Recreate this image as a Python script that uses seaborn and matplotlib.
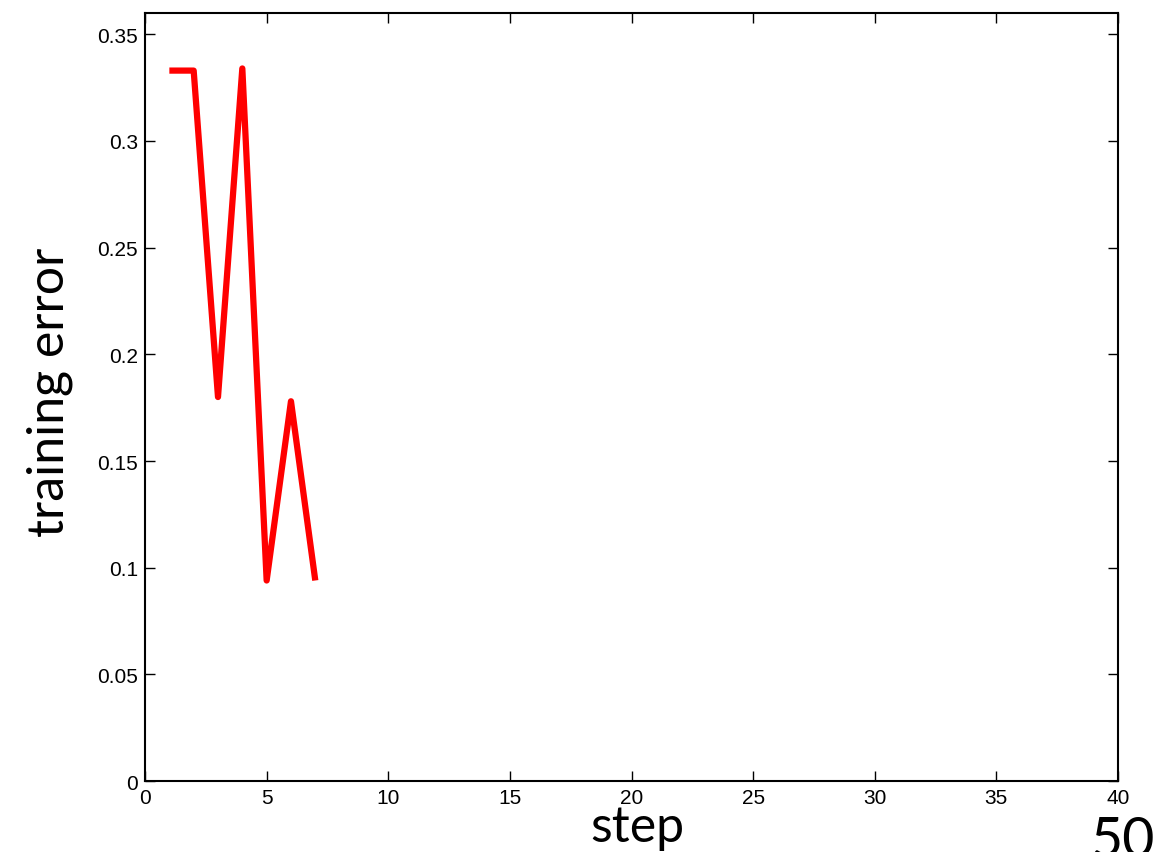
import matplotlib
matplotlib.use("Agg")
import matplotlib.pyplot as plt
import numpy as np
import pandas as pd
import seaborn as sns

# training error per boosting step
steps = [1, 2, 3, 4, 5, 6, 7]
train_err = [0.333, 0.333, 0.180, 0.334, 0.094, 0.178, 0.094]

xticks = [0, 5, 10, 15, 20, 25, 30, 35, 40]
yticks = [0, 0.05, 0.1, 0.15, 0.2, 0.25, 0.3, 0.35]
yticklabels = ["0", "0.05", "0.1", "0.15", "0.2", "0.25", "0.3", "0.35"]

sns.set_style("white")
plt.rcParams['font.family'] = ['Liberation Sans', 'DejaVu Sans']
plt.rcParams['text.color'] = 'black'

df = pd.DataFrame({"step": steps, "err": train_err})

fig = plt.figure(figsize=(11.63, 8.53), dpi=100)
ax = fig.add_axes([0.1247, 0.0832, 0.9613 - 0.1247, 0.9836 - 0.0832])

sns.lineplot(data=df, x="step", y="err", ax=ax, color="#ff0000",
             linewidth=4.5, solid_joinstyle="round", solid_capstyle="butt")

ax.set_xlim(0, 40)
ax.set_ylim(0, 0.36)
ax.set_xticks(xticks)
ax.set_yticks(yticks)
ax.set_yticklabels(yticklabels)
ax.tick_params(direction="in", length=7, width=1, labelsize=15, colors="black",
               top=True, right=True, bottom=True, left=True, pad=5)
for s in ax.spines.values():
    s.set_color("black")
    s.set_linewidth(1.5)
ax.set_xlabel("")
ax.set_ylabel("")

lab_font = ["Lato", "DejaVu Sans"]
fig.text(0.548, 0.029, "step", fontsize=36, ha="center", va="center",
         family=lab_font, color="black")
fig.text(0.043, 0.54, "training error", fontsize=36, rotation=90,
         ha="center", va="center", family=lab_font, color="black")
fig.text(0.966, -0.016, "50", fontsize=40, ha="center", va="bottom",
         family=lab_font, color="black")

fig.savefig("out.png", dpi=100)
